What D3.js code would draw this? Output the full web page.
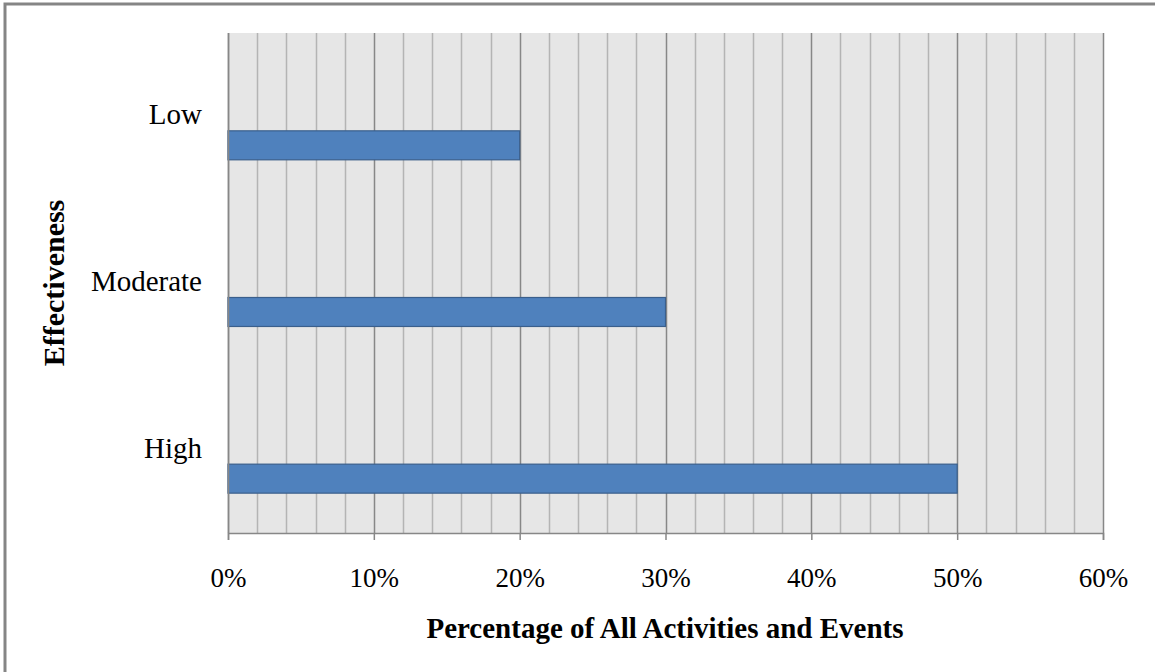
<!DOCTYPE html>
<html>
<head>
<meta charset="utf-8">
<script src="https://cdn.jsdelivr.net/npm/d3@7"></script>
<style>
  html, body { margin: 0; padding: 0; background: #fff; }
  svg { display: block; }
  text { font-family: "Book Antiqua", "Palatino Linotype", "Liberation Serif", "DejaVu Serif", serif; fill: #000; }
</style>
</head>
<body>
<svg id="chart" width="1155" height="672"></svg>
<script>
// Effectiveness levels, listed top to bottom
const categories = ["Low", "Moderate", "High"];
// Share of all activities and events at each level
const shares = [0.20, 0.30, 0.50];
// Series slots per category (only the last one carries data)
const seriesSlots = ["s1", "s2", "s3"];
const majorTicks = [0, 0.1, 0.2, 0.3, 0.4, 0.5, 0.6];
const minorTicks = d3.range(0, 31).map(i => i / 50);

const svg = d3.select("#chart");
const W = 1155, H = 672;
const plot = { left: 228, right: 1103, top: 33, bottom: 533 };

// Outer frame
svg.append("rect")
  .attr("x", 5).attr("y", 4)
  .attr("width", W + 20).attr("height", H + 20)
  .attr("fill", "#fff")
  .attr("stroke", "#858585").attr("stroke-width", 3);

const x = d3.scaleLinear().domain([0, 0.6]).range([plot.left, plot.right]);
const y = d3.scaleBand().domain(categories).range([plot.top, plot.bottom]).padding(0);
const ySub = d3.scaleBand().domain(seriesSlots).range([0, y.bandwidth()])
  .paddingInner(0).paddingOuter(1.375);

// Plot background
svg.append("rect")
  .attr("x", plot.left).attr("y", plot.top)
  .attr("width", plot.right - plot.left).attr("height", plot.bottom - plot.top)
  .attr("fill", "#e6e6e6");

// Minor gridlines
svg.append("g").selectAll("line")
  .data(minorTicks.filter(v => Math.round(v * 100) % 10 !== 0))
  .join("line")
  .attr("x1", d => Math.round(x(d)) + 0.5).attr("x2", d => Math.round(x(d)) + 0.5)
  .attr("y1", plot.top).attr("y2", plot.bottom)
  .attr("stroke", "#b4b4b4").attr("stroke-width", 1.5);

// Major gridlines
svg.append("g").selectAll("line")
  .data(majorTicks)
  .join("line")
  .attr("x1", d => Math.round(x(d)) + 0.5).attr("x2", d => Math.round(x(d)) + 0.5)
  .attr("y1", plot.top).attr("y2", plot.bottom)
  .attr("stroke", "#878787").attr("stroke-width", 1.5);

// Bars
svg.append("g").selectAll("rect")
  .data(categories.map((c, i) => ({ c, v: shares[i] })))
  .join("rect")
  .attr("x", x(0))
  .attr("y", d => y(d.c) + ySub("s3"))
  .attr("width", d => x(d.v) - x(0))
  .attr("height", ySub.bandwidth())
  .attr("fill", "#4f81bd")
  .attr("stroke", "#3a5f8c").attr("stroke-width", 1.2);

// Bottom axis
const xAxis = d3.axisBottom(x)
  .tickValues(majorTicks)
  .tickFormat(d3.format(".0%"))
  .tickSize(7)
  .tickPadding(28);
const gx = svg.append("g").attr("transform", `translate(0,${plot.bottom})`).call(xAxis);
gx.select(".domain").attr("stroke", "#878787").attr("stroke-width", 1.5);
gx.selectAll(".tick line").attr("stroke", "#878787").attr("stroke-width", 1.5);
gx.selectAll(".tick text")
  .attr("font-size", 27)
  .attr("font-family", "'Liberation Serif', serif")
  .attr("fill", "#000");

// Left axis line
svg.append("line")
  .attr("x1", plot.left + 0.5).attr("x2", plot.left + 0.5)
  .attr("y1", plot.top).attr("y2", plot.bottom)
  .attr("stroke", "#878787").attr("stroke-width", 1.5);

// Category labels
svg.append("g").selectAll("text")
  .data(categories)
  .join("text")
  .attr("x", 202)
  .attr("y", d => y(d) + y.bandwidth() / 2 + 8)
  .attr("text-anchor", "end")
  .attr("font-size", 29)
  .text(d => d);

// Axis titles
svg.append("text")
  .attr("x", 665)
  .attr("y", 638)
  .attr("text-anchor", "middle")
  .attr("font-size", 29)
  .attr("font-weight", "bold")
  .text("Percentage of All Activities and Events");

svg.append("text")
  .attr("transform", `translate(64,283) rotate(-90)`)
  .attr("text-anchor", "middle")
  .attr("font-size", 30)
  .attr("font-weight", "bold")
  .text("Effectiveness");
</script>
</body>
</html>
